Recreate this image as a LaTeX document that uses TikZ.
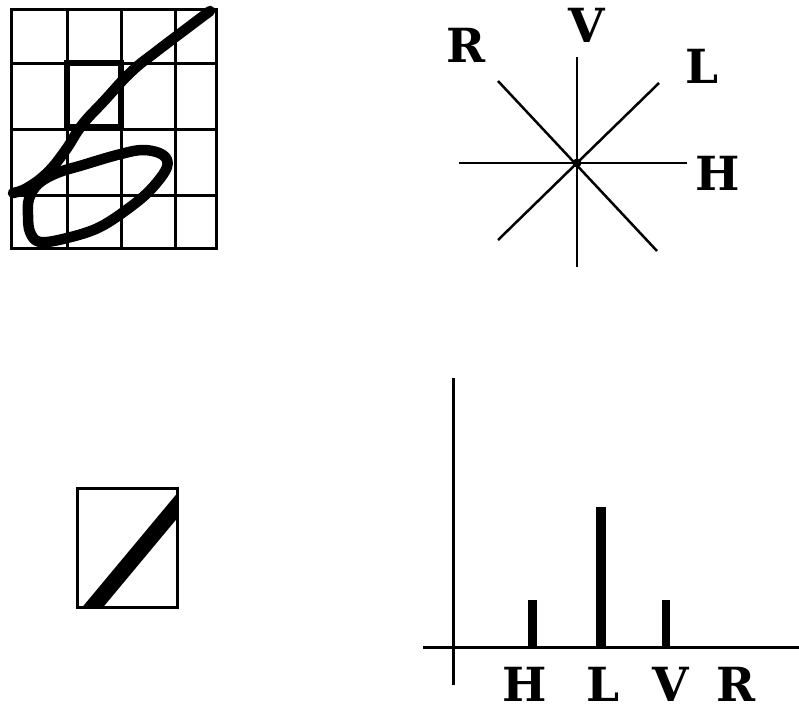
\documentclass[tikz,border=0pt]{standalone}
\usepackage{fontspec}
\setmainfont{DejaVu Serif}
\begin{document}
\begin{tikzpicture}[x=1pt,y=-1pt,
  lbl/.style={font=\bfseries\fontsize{47}{47}\selectfont, inner sep=0pt, anchor=base},
  gridline/.style={line width=3pt},
  ink/.style={line width=10.5pt, line cap=round, line join=round},
  ray/.style={line width=2.5pt},
  axis/.style={line width=3pt},
  bar/.style={fill=black, draw=none}]
\useasboundingbox (0,0) rectangle (799,707);
% grid
\draw[gridline] (11,9) rectangle (216,248);
\foreach \x in {67,121,175} \draw[gridline] (\x,9) -- (\x,248);
\foreach \y in {63,129,195} \draw[gridline] (11,\y) -- (216,\y);
\draw[line width=5.5pt] (67,63) rectangle (121,127);
\draw[ink] plot[smooth, tension=0.7] coordinates {(210,11) (157,51) (131,72) (104,101) (82,125) (65,151) (47,173) (27,188) (13,193)};
\draw[ink] plot[smooth cycle, tension=0.6] coordinates {(163,155) (143,150) (117,155) (83,165) (57,173) (38,184) (29,199) (28,215) (30,232) (40,242) (67,238) (100,227) (133,205) (153,187) (167,167)};
% small box
\draw[line width=3pt] (77,488) rectangle (177,607);
\begin{scope}
  \clip (77,488) rectangle (177,607);
  \draw[line width=16pt] (87,614) -- (182,500);
\end{scope}
% star
\coordinate (c) at (577,163);
\coordinate (vt) at (577,57);  \coordinate (vb) at (577,267);
\coordinate (hl) at (459,163); \coordinate (hr) at (687,163);
\coordinate (ne) at (659,83);  \coordinate (sw) at (498,240);
\coordinate (nw) at (498,81);  \coordinate (se) at (657,251);
\draw[ray] (vt) -- (vb);
\draw[ray] (hl) -- (hr);
\draw[ray] (ne) -- (sw);
\draw[ray] (nw) -- (se);
\fill (c) circle (4.5pt);
\node[lbl] (sV) at (587,42) {V};
\node[lbl] (sR) at (466,62) {R};
\node[lbl] (sL) at (702,83) {L};
\node[lbl] (sH) at (718,190) {H};
% bar chart
\coordinate (yt) at (453,378); \coordinate (yb) at (453,685);
\coordinate (xl) at (423,647); \coordinate (xr) at (799,647);
\draw[axis] (yt) -- (yb);
\draw[axis] (xl) -- (xr);
\fill[bar] (528,600) rectangle (537,647);
\fill[bar] (596,507) rectangle (606,647);
\fill[bar] (662,600) rectangle (670,647);
\node[lbl] (bH) at (525,701) {H};
\node[lbl] (bL) at (603,701) {L};
\node[lbl] (bV) at (671,701) {V};
\node[lbl] (bR) at (736,701) {R};
\end{tikzpicture}
\end{document}
